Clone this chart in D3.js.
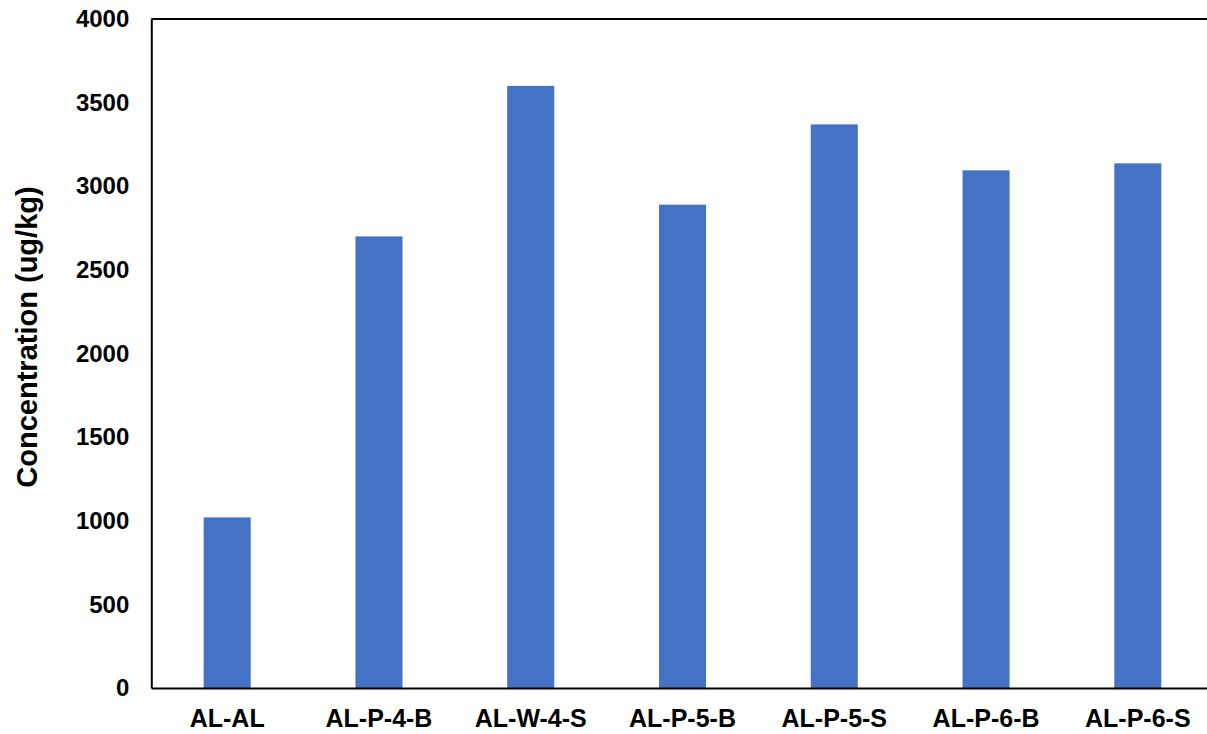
<!DOCTYPE html>
<html>
<head>
<meta charset="utf-8">
<script src="https://cdn.jsdelivr.net/npm/d3@7"></script>
<style>
  html, body { margin: 0; padding: 0; background: #fff; }
  svg { display: block; }
  text { font-family: "Liberation Sans", Arial, sans-serif; font-weight: bold; fill: #000; }
</style>
</head>
<body>
<svg id="chart" width="1207" height="734"></svg>
<script>
const categories = ["AL-AL", "AL-P-4-B", "AL-W-4-S", "AL-P-5-B", "AL-P-5-S", "AL-P-6-B", "AL-P-6-S"];
const values = [1020, 2700, 3600, 2890, 3370, 3095, 3137];
const yTicks = [0, 500, 1000, 1500, 2000, 2500, 3000, 3500, 4000];
const yTitle = "Concentration (ug/kg)";

const svg = d3.select("#chart");
const mLeft = 151.3, mRight = 1213.7, mTop = 19, mBottom = 688;

const x = d3.scaleBand().domain(categories).range([mLeft, mRight]).paddingInner(0.69).paddingOuter(0.345);
const y = d3.scaleLinear().domain([0, 4000]).range([mBottom, mTop]);

// bars
svg.append("g").selectAll("rect").data(values).join("rect")
  .attr("x", (d, i) => x(categories[i]))
  .attr("width", x.bandwidth())
  .attr("y", d => y(d))
  .attr("height", d => y(0) - y(d))
  .attr("fill", "#4472C4");

// frame (top border)
svg.append("line").attr("x1", mLeft).attr("x2", mRight).attr("y1", mTop).attr("y2", mTop)
  .attr("stroke", "#000").attr("stroke-width", 2);

// y axis
const yAxis = d3.axisLeft(y).tickValues(yTicks).tickSize(0).tickPadding(22).tickFormat(d3.format("d"));
const gy = svg.append("g").attr("transform", `translate(${mLeft},0)`).call(yAxis);
gy.select(".domain").attr("stroke", "#000").attr("stroke-width", 2);
gy.selectAll("text").style("font-size", "24px").style("font-family", "Liberation Sans, Arial, sans-serif").style("font-weight", "bold");

// x axis
const xAxis = d3.axisBottom(x).tickSize(0).tickPadding(21);
const gx = svg.append("g").attr("transform", `translate(0,${mBottom})`).call(xAxis);
gx.select(".domain").attr("stroke", "#000").attr("stroke-width", 2);
gx.selectAll("text").style("font-size", "25px").style("font-family", "Liberation Sans, Arial, sans-serif").style("font-weight", "bold");

// y title
svg.append("text")
  .attr("transform", `translate(37,337) rotate(-90)`)
  .attr("text-anchor", "middle")
  .style("font-size", "29px")
  .text(yTitle);
</script>
</body>
</html>
